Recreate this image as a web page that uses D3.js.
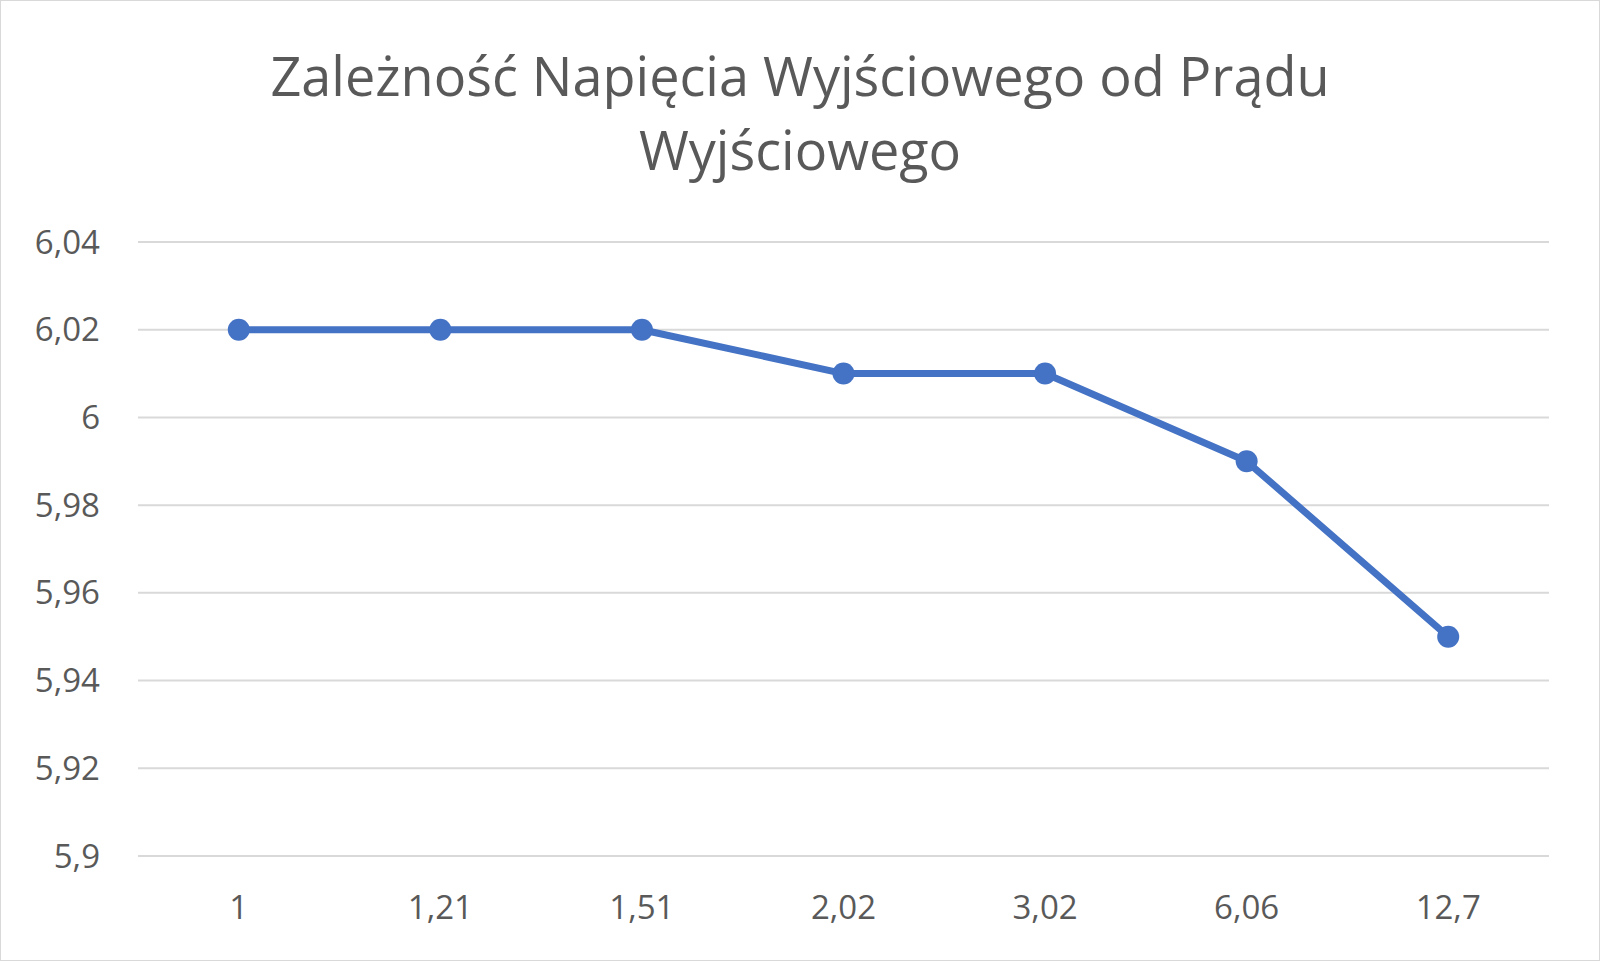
<!DOCTYPE html>
<html><head><meta charset="utf-8">
<script src="https://cdn.jsdelivr.net/npm/d3@7"></script>
<style>body{margin:0;background:#fff}</style>
</head><body><div id="chart"></div>
<script>
// data
let currents = ["1", "1,21", "1,51", "2,02", "3,02", "6,06", "12,7"]
let voltages = [6.02, 6.02, 6.02, 6.01, 6.01, 5.99, 5.95]
let yTicks = [5.9, 5.92, 5.94, 5.96, 5.98, 6, 6.02, 6.04]

let W = 1600, H = 961
let margin = {top: 242, right: 51, bottom: 105, left: 138}

let svg = d3.select("#chart").append("svg").attr("width", W).attr("height", H)
svg.append("rect").attr("x", 0.5).attr("y", 0.5).attr("width", W - 1).attr("height", H - 1)
    .attr("fill", "#fff").attr("stroke", "#d9d9d9")

let x = d3.scalePoint().domain(currents).range([margin.left, W - margin.right]).padding(0.5)
let y = d3.scaleLinear().domain([5.9, 6.04]).range([H - margin.bottom, margin.top])
let fmt = v => d3.format("~g")(+v.toFixed(2)).replace(".", ",")

svg.selectAll(".grid").data(yTicks).enter().append("line")
    .attr("x1", margin.left).attr("x2", W - margin.right)
    .attr("y1", d => y(d)).attr("y2", d => y(d))
    .attr("stroke", "#d9d9d9").attr("stroke-width", 2)

svg.selectAll(".ylab").data(yTicks).enter().append("text")
    .attr("x", 100).attr("y", d => y(d)).attr("dy", "0.35em")
    .attr("text-anchor", "end").attr("font-family", "Open Sans, sans-serif")
    .attr("font-size", 33).attr("fill", "#595959").text(fmt)

svg.selectAll(".xlab").data(currents).enter().append("text")
    .attr("x", d => x(d)).attr("y", 919).attr("text-anchor", "middle")
    .attr("font-family", "Open Sans, sans-serif").attr("font-size", 33)
    .attr("fill", "#595959").text(d => d)

let line = d3.line().x((d, i) => x(currents[i])).y(d => y(d))
svg.append("path").datum(voltages).attr("d", line).attr("fill", "none")
    .attr("stroke", "#4472c4").attr("stroke-width", 7).attr("stroke-linejoin", "round")

svg.selectAll(".pt").data(voltages).enter().append("circle")
    .attr("cx", (d, i) => x(currents[i])).attr("cy", d => y(d)).attr("r", 11)
    .attr("fill", "#4472c4")

let title = ["Zależność Napięcia Wyjściowego od Prądu", "Wyjściowego"]
svg.selectAll(".title").data(title).enter().append("text")
    .attr("x", 800).attr("y", (d, i) => 96 + i * 74).attr("text-anchor", "middle")
    .attr("font-family", "Open Sans, sans-serif").attr("font-size", 54)
    .attr("fill", "#595959").text(d => d)
</script></body></html>
